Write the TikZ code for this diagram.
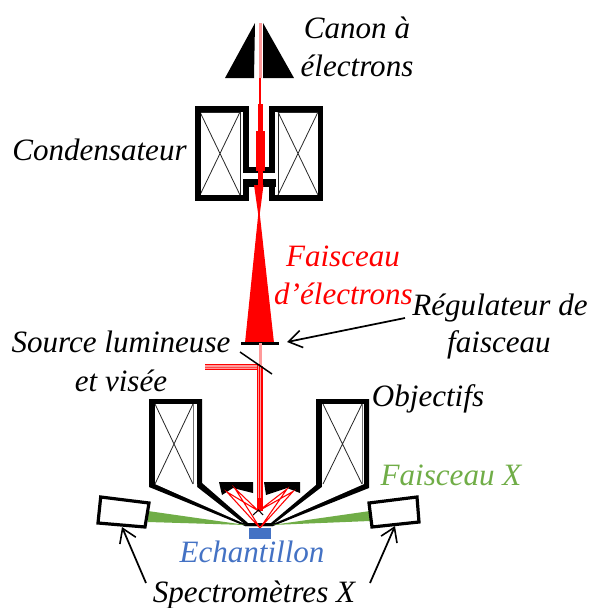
\documentclass[tikz,border=0pt]{standalone}
\usepackage{fontspec}
\setmainfont{Liberation Serif}
\usetikzlibrary{arrows.meta}
\definecolor{beamred}{HTML}{FF0000}
\definecolor{beampink}{HTML}{FF9A9A}
\definecolor{xgreen}{HTML}{70AD47}
\definecolor{sampleblue}{HTML}{4472C4}
\tikzset{
  lbl/.style={font=\fontsize{23.3pt}{26pt}\selectfont\itshape,inner sep=0pt,anchor=center},
  frame/.style={draw=black,line width=4.2pt,miter limit=10},
  coil/.style={draw=black!85,line width=0.6pt},
  ray/.style={draw=beamred,line width=0.8pt},
  call/.style={draw=black,line width=1.3pt,-{Straight Barb[length=10pt,width=13pt,line width=1.2pt]}},
  specbox/.style={draw=black,line width=2.4pt,fill=white}
}
\begin{document}
\begin{tikzpicture}[x=0.75pt,y=-0.75pt]
\useasboundingbox (0,0) rectangle (592,608);
% gun
\fill (255,23) -- (225,78) -- (254,78) -- cycle;
\fill (263,23) -- (294,78) -- (263,78) -- cycle;
\fill[beampink] (258.8,23) rectangle (261.5,78);
\fill[beamred] (258.8,78) rectangle (261.3,104);
\fill[beamred] (258,104) rectangle (262.5,131);
% condenser coils
\foreach \a/\b in {200/240,278/318}{
  \draw[coil] (\a,112) rectangle (\b,195);
  \draw[coil] (\a,112) -- (\b,195) (\b,112) -- (\a,195);
}
% condenser frame
\draw[frame] (197.7,198) -- (197.7,108.8) -- (246.2,108.8) -- (246.2,170) -- (272,170) -- (272,108.8) -- (320.5,108.8) -- (320.5,198) -- (272,198) -- (272,184);
\draw[frame] (195,198) -- (246.2,198) -- (246.2,184);
\fill (243,179) rectangle (275.5,187);
% beam in condenser
\fill[beamred] (256,131) rectangle (265,171);
\fill[beamred] (258,171) rectangle (262.5,186);
\fill[beamred] (254,185) -- (263.5,185) -- (259,220) -- cycle;
% cone
\fill[beamred] (259,207) -- (245,343) -- (274,343) -- cycle;
% regulator
\draw[line width=2.4pt] (241,343.5) coordinate (regL) -- (279,343.5) coordinate (regR);
% vertical beam, upper
\fill[beampink] (259,343) rectangle (261.5,366);
% horizontal source
\fill[beampink] (205,364) rectangle (259,370);
\draw[beamred,line width=0.7pt] (205,364.5) -- (260,364.5) (205,369.5) -- (257.5,369.5);
\draw[beamred!70,line width=0.5pt] (205,367) -- (258,367);
% vertical beam, lower
\fill[beampink] (257,366) rectangle (262.5,500);
\draw[beamred,line width=1.1pt] (257.5,364.5) -- (257.5,500) (262,366) -- (262,500);
\draw[beamred,line width=0.8pt] (259.8,366) -- (259.8,500);
\fill[beamred] (257,498) rectangle (262.5,511);
\draw[line width=1.1pt] (240,352) -- (272,374);
% objective frames
\fill (149,399) -- (202,399) -- (202,483) -- (248,523) -- (273,523) -- (273,526) -- (245,526) -- (149,487) -- cycle;
\fill[white] (155,404) rectangle (197,484);
\fill[white] (155,484) -- (197,484) -- (197,487) -- (243,523) -- cycle;
\fill (369,399) -- (316,399) -- (316,485) -- (271,523) -- (245,523) -- (245,526) -- (273,526) -- (369,488) -- cycle;
\fill[white] (322,404) rectangle (364,484);
\fill[white] (322,487) -- (322,484) -- (364,484) -- (275,523) -- cycle;
\foreach \a/\b in {155/193,323/362}{
  \draw[coil] (\a,404) -- (\b,484) (\b,404) -- (\a,484);
}
\draw[black!55,line width=0.7pt] (193.5,404) -- (193.5,484) (362,404) -- (362,484);
% green beams
\fill[xgreen] (148,511) -- (246,525) -- (148,522) -- cycle;
\fill[xgreen] (370,511) -- (272,525) -- (370,521) -- cycle;
% pole pieces
\fill (219,482) -- (253,482) -- (253,493) -- (233,488) -- (222,495) -- cycle;
\fill (264,482) -- (300,482) -- (300,493) -- (287,488) -- (266,495) -- cycle;
% rays
\coordinate (rc) at (258.5,511);
\coordinate (rs) at (260,528);
\draw[ray] (rc) -- (227,492) -- (rs) -- (235,488.5) -- (rc) -- (287,489) -- (rs) -- (293,491.5) -- (rc);
\draw[line width=0.8pt] (253,515) -- (258.5,510) -- (263,515);
% sample
\fill[sampleblue] (249,528) rectangle (271,539);
% spectrometers
\draw[specbox] (100.7,497) -- (149,503) -- (145,527) -- (98,523) -- cycle;
\draw[specbox] (369,503) -- (417,497) -- (419,522) -- (372,527) -- cycle;
% labels
\node[lbl] (canon1) at (357,28) {Canon à};
\node[lbl] (canon2) at (357,66) {électrons};
\node[lbl] (cond) at (99.5,150) {Condensateur};
\node[lbl,text=beamred] (fais1) at (343,256) {Faisceau};
\node[lbl,text=beamred] (fais2) at (343.5,294) {d’électrons};
\node[lbl] (reg1) at (500,308) {Régulateur de};
\node[lbl] (reg2) at (499,345) {faisceau};
\node[lbl] (src1) at (121,342) {Source lumineuse};
\node[lbl] (src2) at (121,381) {et visée};
\node[lbl] (obj) at (428,399) {Objectifs};
\node[lbl,text=xgreen] (fx) at (451,475) {Faisceau X};
\node[lbl,text=sampleblue] (ech) at (252,552) {Echantillon};
\node[lbl] (spec) at (254,595) {Spectromètres X};
% arrows
\coordinate (regtail) at (405,318);
\coordinate (regtip) at (287,342);
\draw[call] (regtail) -- (regtip);
\coordinate (sl) at (146,583);
\coordinate (slt) at (122,527);
\coordinate (sr) at (370,583);
\coordinate (srt) at (395,526);
\draw[call] (sl) -- (slt);
\draw[call] (sr) -- (srt);
\end{tikzpicture}
\end{document}
